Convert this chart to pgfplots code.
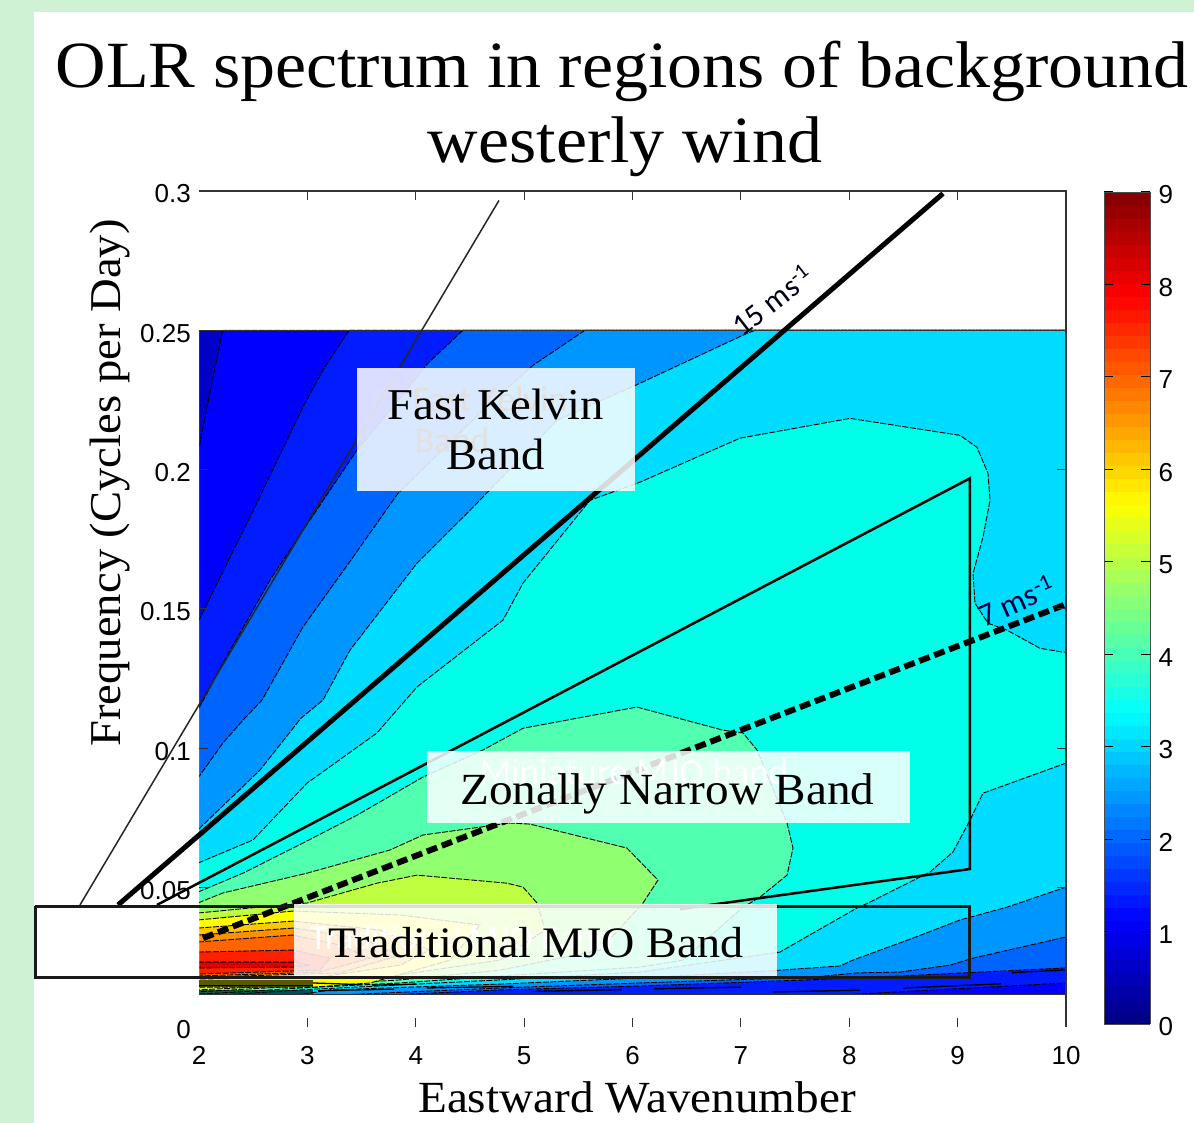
\documentclass[border=0pt]{standalone}
\usepackage{fontspec}
\usepackage{pgfplots}
\pgfplotsset{compat=1.18}
\setmainfont[FakeStretch=1.06]{Liberation Serif}
\newfontfamily\tickfont{Liberation Sans}
\newfontfamily\calib{Carlito}
\newcommand{\fs}[1]{\fontsize{#1}{#1}\selectfont}
\definecolor{bggreen}{RGB}{207,241,212}
\definecolor{cA}{RGB}{0,0,200}
\definecolor{cB}{RGB}{0,0,255}
\definecolor{cC}{RGB}{0,28,255}
\definecolor{cD}{RGB}{0,100,255}
\definecolor{cE}{RGB}{0,150,255}
\definecolor{cF}{RGB}{0,220,255}
\definecolor{cG}{RGB}{0,255,232}
\definecolor{cH}{RGB}{80,255,176}
\definecolor{cI}{RGB}{144,255,112}
\definecolor{cJ}{RGB}{192,255,64}
\definecolor{cK}{RGB}{255,255,0}
\definecolor{cL}{RGB}{255,200,0}
\definecolor{cM}{RGB}{255,144,0}
\definecolor{cN}{RGB}{255,100,0}
\definecolor{cO}{RGB}{255,32,0}
\definecolor{cP}{RGB}{224,0,0}
\begin{document}
\begin{tikzpicture}[x=1pt,y=1pt]
\path[use as bounding box] (0,0) rectangle (1194,1123);
\fill[white] (0,0) rectangle (1194,1123);
\fill[bggreen] (0,0) rectangle (34,1123);
\fill[bggreen] (0,1111) rectangle (1194,1123);
\begin{axis}[
  at={(199pt,96pt)}, anchor=south west, scale only axis,
  width=867pt, height=836pt,
  xmin=2, xmax=10, ymin=0, ymax=0.3,
  clip=false, axis on top,
  axis line style={draw=none},
  xtick={3,4,5,6,7,8,9,10},
  ytick={0.05,0.1,0.15,0.2,0.25,0.3},
  xticklabels={3,4,5,6,7,8,9,10},
  yticklabels={0.05,0.1,0.15,0.2,0.25,0.3},
  extra x ticks={2}, extra x tick labels={2},
  extra y ticks={0}, extra y tick labels={0},
  extra tick style={major tick length=0pt},
  tick align=inside, tick pos=both,
  major tick length=9pt,
  tick style={draw=black!80,line width=1pt},
  tick label style={font=\tickfont\fs{26},inner sep=0pt},
  xticklabel style={yshift=-19pt},
  yticklabel style={xshift=-8pt,yshift=-3pt},
  colormap/jet, colorbar sampled,
  point meta min=0, point meta max=9,
  colorbar shift/.style={xshift=24pt,yshift=-1pt},
  colorbar style={
    samples=65, scale only axis, width=46pt, height=832pt,
    ytick={0,1,2,3,4,5,6,7,8,9},
    yticklabels={0,1,2,3,4,5,6,7,8,9},
    tick align=inside, major tick length=9pt,
    tick style={draw=black,line width=1pt},
    axis line style={draw=black!70,line width=.8pt},
    yticklabel style={xshift=8pt,yshift=-3pt,font=\tickfont\fs{26},inner sep=0pt},
  },
  contour/.style={draw=black,line width=.9pt,dash pattern=on 6pt off 1.5pt},
]
% filled contour regions, outermost first
\addplot[fill=cA,draw=none] coordinates {(2,.01166)(10,.01166)(10,.25)(2,.25)(2,.01166)};
\addplot[fill=cB,contour] coordinates {(2.219,.25)(2.129,.2331)(1.99,.2059)(1.99,.01166)(10,.01166)(10,.25)(2.219,.25)};
\addplot[fill=cC,contour] coordinates {(3.384,.25)(3.144,.2357)(2.959,.2224)(2.470,.1829)(1.99,.1453)(1.99,.01166)(8.006,.01166)(10,.0158)(10,.25)(3.384,.25)};
\addplot[fill=cD,contour] coordinates {(4.435,.25)(4.113,.2382)(3.762,.2213)(3.458,.2070)(2.978,.1793)(2.655,.1603)(2.221,.1306)(1.99,.1137)(1.99,.01166)(3.855,.01166)(4.777,.0133)(6.069,.0147)(7.61,.0169)(8.468,.0183)(10,.0212)(10,.25)(4.435,.25)};
\addplot[fill=cE,contour] coordinates {(5.561,.25)(5.081,.2374)(4.685,.2238)(3.836,.1915)(3.421,.1686)(2.959,.1435)(2.581,.1173)(2.406,.1101)(2.221,.1019)(1.99,.0893)(1.99,.01166)(3.393,.01166)(4.777,.0140)(6.069,.0158)(7.666,.0179)(8.071,.0194)(8.468,.0197)(8.930,.0222)(9.142,.0247)(10,.0323)(10,.25)(5.561,.25)};
\addplot[fill=cF,contour] coordinates {(7.130,.25)(7.056,.2489)(6.069,.2310)(5.303,.2177)(4.501,.1854)(4.011,.1664)(3.393,.1352)(3.144,.1173)(2.941,.1108)(2.563,.0922)(1.99,.0707)(1.99,.01166)(2.932,.01166)(3.209,.0133)(4.777,.0154)(6.069,.0176)(7.361,.0204)(7.915,.0219)(8.034,.0240)(8.588,.0319)(9.022,.0384)(9.455,.0430)(10,.0502)(10,.25)(7.130,.25)};
\addplot[fill=cG,contour] coordinates {(1.99,.0588)(2.498,.0671)(2.997,.0875)(3.642,.1055)(4.011,.1220)(4.805,.1460)(4.990,.1593)(5.608,.1890)(6.069,.1955)(6.992,.2113)(8.007,.2184)(9.022,.2123)(9.179,.2080)(9.280,.1987)(9.299,.1890)(9.234,.1758)(9.142,.1628)(9.160,.1521)(9.280,.1449)(9.455,.1424)(9.760,.1359)(9.972,.1345)(10,.1345)(10,.0947)(9.234,.0839)(9.114,.0742)(8.957,.0628)(8.745,.0556)(8.191,.0448)(8.071,.0427)(7.361,.0269)(6.069,.0197)(4.777,.0169)(3.855,.0151)(2.932,.0133)(2.286,.01166)(1.99,.01166)(1.99,.0588)};
\addplot[fill=cH,contour] coordinates {(1.99,.0484)(2.406,.0552)(2.959,.0660)(3.458,.0760)(4.067,.0897)(4.620,.0994)(4.990,.1072)(5.543,.1112)(6.041,.1148)(6.835,.1065)(7.020,.1055)(7.149,.0994)(7.426,.0732)(7.481,.0642)(7.426,.0545)(7.176,.0466)(7.020,.0430)(6.466,.0240)(6.069,.0215)(4.777,.0183)(3.855,.0158)(2.932,.0140)(2.378,.0126)(1.99,.0118)(1.99,.0484)};
\addplot[fill=cI,contour] coordinates {(1.99,.0445)(2.221,.0481)(2.997,.0552)(3.762,.0635)(4.067,.0689)(4.870,.0732)(5.054,.0728)(5.949,.0642)(6.235,.0527)(6.097,.0445)(5.700,.0276)(4.777,.0204)(3.855,.0169)(2.932,.0147)(1.99,.0126)(1.99,.0445)};
\addplot[fill=cJ,contour] coordinates {(1.99,.0409)(2.471,.0427)(2.997,.0445)(3.642,.0516)(4.011,.0545)(4.842,.0516)(4.990,.0502)(5.119,.0445)(5.193,.0348)(4.777,.0240)(3.855,.0187)(3.052,.0154)(1.99,.0133)(1.99,.0409)};
\addplot[fill=cK,contour] coordinates {(1.99,.0384)(2.867,.0416)(3.855,.0402)(4.593,.0366)(4.316,.0240)(3.578,.0158)(3.052,.0143)(1.99,.0143)(1.99,.0384)};
\addplot[fill=cL,contour] coordinates {(1.99,.0355)(2.867,.0380)(3.670,.0348)(4.131,.0276)(3.855,.0222)(3.116,.0179)(1.99,.0172)(1.99,.0355)};
\addplot[fill=cM,contour] coordinates {(1.99,.0330)(2.867,.0355)(3.486,.0319)(3.855,.0258)(3.301,.0194)(1.99,.0178)(1.99,.0330)};
\addplot[fill=cN,contour] coordinates {(1.99,.0305)(2.867,.0330)(3.301,.0294)(3.578,.0247)(3.116,.0197)(1.99,.0183)(1.99,.0305)};
\addplot[fill=cO,contour] coordinates {(1.99,.0269)(2.867,.0276)(3.209,.0247)(3.116,.0204)(1.99,.0190)(1.99,.0269)};
\addplot[fill=cP,contour] coordinates {(1.99,.0233)(2.867,.0233)(3.024,.0222)(2.867,.0215)(1.99,.0212)(1.99,.0233)};
% tidy left edge of the filled field
\addplot[fill=white,draw=none] coordinates {(1.96,.0115)(2,.0115)(2,.2515)(1.96,.2515)(1.96,.0115)};
% dense contours along the bottom of the field
\addplot[black,line width=1.3pt,unbounded coords=jump] coordinates {(2,.0165)(3.05,.0165)(nan,nan)(2,.0158)(3.05,.0158)(nan,nan)(2,.0151)(3.05,.0151)(nan,nan)(2,.0147)(3.05,.0147)(nan,nan)(2,.0129)(3.05,.0129)(nan,nan)(2,.0122)(3.05,.0122)(nan,nan)(3.05,.0158)(3.5,.0152)(nan,nan)(3.6,.0150)(4,.0154)(nan,nan)(3.1,.0130)(3.8,.0136)(nan,nan)(4.1,.0140)(4.9,.0146)(nan,nan)(5.1,.0128)(5.9,.0134)(nan,nan)(6.2,.0137)(7.0,.0143)(nan,nan)(7.3,.0126)(8.1,.0132)(nan,nan)(8.5,.0140)(9.4,.0155)(nan,nan)(9.5,.0195)(10,.0205)};
% frame pieces
\addplot[black!80,line width=1.2pt] coordinates {(2,.3)(10,.3)(10,0)};
\addplot[black!80,line width=1.2pt] coordinates {(2,.25)(10,.25)};
\addplot[black!80,line width=1.2pt] coordinates {(2,.01166)(10,.01166)};
% wave-speed lines
\addplot[black!85,line width=1.5pt] coordinates {(.902,.0438)(4.768,.2966)};
\addplot[black,line width=5pt] coordinates {(1.253,.0438)(8.865,.2991)};
\addplot[black,line width=6pt,dash pattern=on 11pt off 5pt] coordinates {(2.037,.0319)(10,.1517)};
% zonally narrow band outline
\addplot[black,line width=2.5pt] coordinates {(1.612,.0438)(9.114,.1969)(9.114,.0567)(6.438,.0423)};
% traditional MJO band box
\addplot[fill=white,draw=none] coordinates {(.487,.0434)(2,.0434)(2,.0176)(.487,.0176)(.487,.0434)};
\addplot[black!90,line width=3pt] coordinates {(.487,.0434)(9.114,.0434)(9.114,.0176)(.487,.0176)(.487,.0434)};
\end{axis}
\begin{scope}[shift={(0,1123)},x=1pt,y=-1pt]
% ghost labels beneath the white panels
\node[anchor=base,text=black!60!brown] at (490,412) {\calib\fs{36}Fast Kelvin};
\node[anchor=base,text=black!60!brown] at (452,453) {\calib\fs{36}Band};
\node[anchor=base,text=white] at (634,785) {\calib\fs{37}Miniature MJO band};
\node[anchor=base west,text=white,inner sep=0pt] at (310,950) {\calib\fs{35}Traditional MJO Band};
% speed labels
\node[rotate=38,text=black!90!blue] at (772,300) {\calib\fs{31}15 ms\textsuperscript{-1}};
\node[rotate=24,text=black!75!blue] at (1016,601) {\calib\fs{32}7 ms\textsuperscript{-1}};
% panels
\fill[white,opacity=.85] (357,368) rectangle (635,491);
\fill[white,opacity=.85] (427,751) rectangle (910,823);
\fill[white,opacity=.85] (294,904) rectangle (777,976);
\node[anchor=base] at (496,420) {\fs{44}Fast Kelvin};
\node[anchor=base] at (496,470) {\fs{44}Band};
\node[anchor=base] at (667.5,805) {\fs{44.5}Zonally Narrow Band};
\node[anchor=base] at (536,958) {\fs{43.5}Traditional MJO Band};
% titles and axis labels
\node[anchor=base] at (622,88) {\fs{66}OLR spectrum in regions of background};
\node[anchor=base] at (625,163) {\fs{66}westerly wind};
\node[anchor=base] at (637,1113) {\fs{44.5}Eastward Wavenumber};
\node[anchor=base,rotate=90] at (120,483) {\fs{44}Frequency (Cycles per Day)};
\end{scope}
\end{tikzpicture}
\end{document}
